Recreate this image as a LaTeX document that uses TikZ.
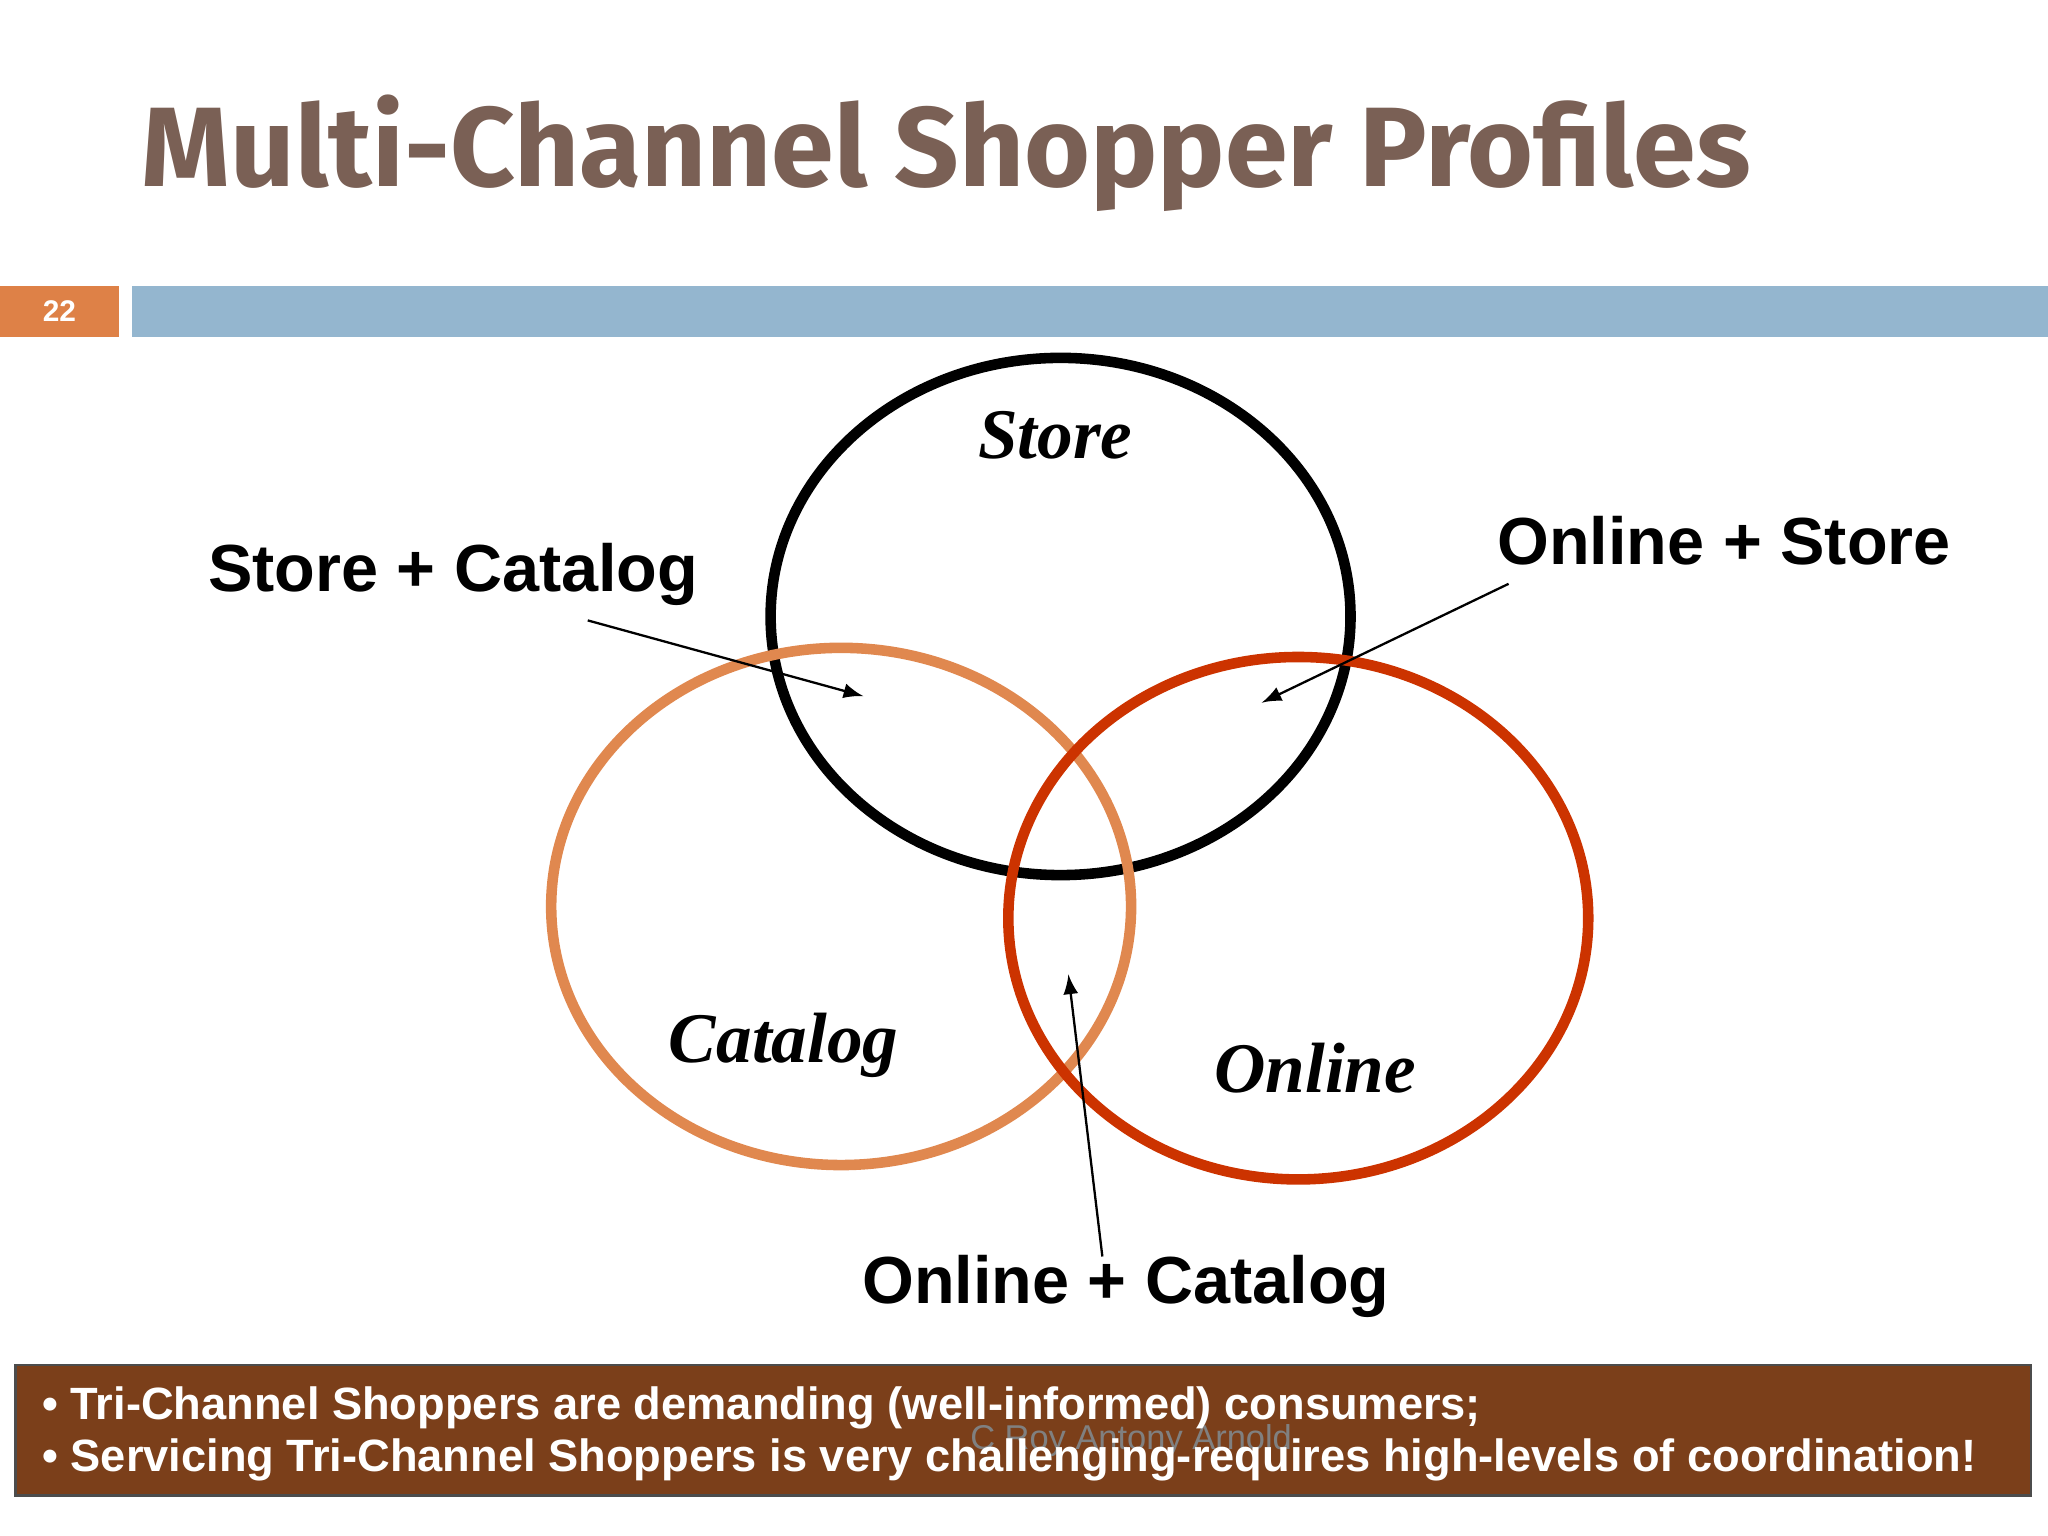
\documentclass[tikz,border=0pt]{standalone}
\usepackage{fontspec}
\setmainfont{Liberation Sans}
\newfontfamily\serifbi{Liberation Serif}
\newfontfamily\titlef{Fira Sans}
\definecolor{titlec}{HTML}{7A6055}
\definecolor{orangec}{HTML}{DE8147}
\definecolor{bluec}{HTML}{94B6CF}
\definecolor{catc}{HTML}{E0884F}
\definecolor{onc}{HTML}{CC3300}
\definecolor{boxc}{HTML}{7B3F1A}
\begin{document}
\begin{tikzpicture}[x=0.01cm,y=-0.01cm,
  ring/.style={line width=2.3pt},
  setlbl/.style={font=\serifbi\bfseries\itshape\fontsize{15.5}{18}\selectfont},
  overlbl/.style={font=\bfseries\fontsize{14.5}{17}\selectfont},
  pointer/.style={-latex,line width=0.5pt},
  bullet/.style={anchor=west,text=white,font=\bfseries\fontsize{9.85}{11}\selectfont}]
\useasboundingbox (0,0) rectangle (1568,1176);
\node[anchor=base west,text=titlec,font=\titlef\bfseries\fontsize{24.6}{28}\selectfont,inner sep=0] (title) at (108,143) {Multi-Channel Shopper Profiles};
\fill[orangec] (0,219) rectangle (91,258);
\node[text=white,font=\bfseries\fontsize{6.5}{8}\selectfont] (num) at (45.5,238.5) {22};
\fill[bluec] (101,219) rectangle (1568,258);
\draw[ring,black] (812,472) ellipse [x radius=222,y radius=198];
\draw[ring,catc] (644,694) ellipse [x radius=222,y radius=198];
\draw[ring,onc] (994,703) ellipse [x radius=222,y radius=200];
\node[setlbl] (store) at (808,333) {Store};
\node[setlbl] (catalog) at (600,800) {Catalog};
\node[setlbl] (online) at (1007,818) {Online};
\node[overlbl] (sc) at (347,440) {Store + Catalog};
\node[overlbl] (os) at (1320,414) {Online + Store};
\node[overlbl] (oc) at (862,985) {Online + Catalog};
\coordinate (scs) at (450,475); \coordinate (sce) at (661,533);
\coordinate (oss) at (1155,447); \coordinate (ose) at (966,538);
\coordinate (ocs) at (844,962); \coordinate (oce) at (818,746);
\draw[pointer] (scs) -- (sce);
\draw[pointer] (oss) -- (ose);
\draw[pointer] (ocs) -- (oce);
\draw[fill=boxc,draw=black!70,line width=0.6pt] (12,1045) rectangle (1555,1145);
\node[text=gray,font=\fontsize{7.5}{9}\selectfont] (wm) at (866,1103) {C Roy Antony Arnold};
\node[bullet] (b1) at (20,1078) {• Tri-Channel Shoppers are demanding (well-informed) consumers;};
\node[bullet] (b2) at (20,1118) {• Servicing Tri-Channel Shoppers is very challenging-requires high-levels of coordination!};
\end{tikzpicture}
\end{document}
